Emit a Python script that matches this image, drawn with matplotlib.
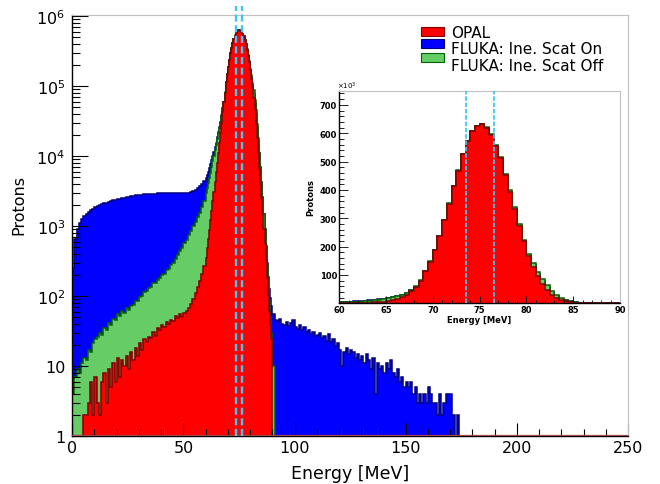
import numpy as np
import matplotlib
matplotlib.use('Agg')
import matplotlib.pyplot as plt
from matplotlib.patches import Rectangle
from matplotlib.ticker import MultipleLocator, LogLocator, NullFormatter

# ---- data (counts per 0.5 MeV bin) ----
# 0-60 MeV, one value per MeV
opal_low = [1, 1, 0, 1, 1, 2, 2, 3, 6, 2,
            7, 3, 2, 6, 8, 3, 9, 5, 11, 6,
            13, 7, 12, 10, 14, 9, 16, 12, 18, 14,
            21, 17, 24, 22, 26, 25, 31, 27, 35, 33,
            38, 36, 42, 40, 46, 44, 51, 48, 55, 50,
            58, 62, 68, 78, 92, 110, 135, 165, 205, 265]
off_low = [4, 7, 9, 8, 11, 13, 12, 17, 16, 21,
           24, 26, 30, 28, 35, 33, 41, 39, 47, 45,
           55, 52, 61, 58, 67, 64, 72, 74, 84, 86,
           97, 100, 115, 118, 128, 136, 152, 155, 172, 178,
           198, 208, 232, 245, 274, 296, 343, 380, 440, 490,
           570, 640, 745, 845, 985, 1125, 1325, 1555, 1875, 2300]
on_low = [250, 650, 900, 1100, 1250, 1380, 1480, 1580, 1680, 1760,
          1840, 1900, 1970, 2040, 2110, 2160, 2220, 2270, 2320, 2370,
          2410, 2450, 2490, 2530, 2570, 2610, 2650, 2690, 2730, 2760,
          2790, 2810, 2830, 2850, 2870, 2890, 2900, 2910, 2930, 2940,
          2950, 2940, 2960, 2950, 2940, 2960, 2950, 2930, 2950, 2940,
          2920, 2930, 2980, 3050, 3150, 3280, 3450, 3680, 3980, 4350]

# 60-90 MeV, 0.5 MeV bins (also the inset)
opal_peak = [350, 480, 650, 880, 1200, 1650, 2250, 3100, 4300, 5900,
             8000, 11000, 15500, 21500, 30000, 43000, 59000, 80000, 113000, 147000,
             188000, 236000, 293000, 351000, 413000, 468000, 526000, 572000, 606000, 624000,
             631000, 620000, 594000, 555000, 512000, 452000, 392000, 331000, 272000, 218000,
             168000, 127000, 95000, 67000, 47000, 29000, 18000, 11000, 6500, 4000,
             2500, 1500, 900, 550, 330, 180, 100, 60, 38, 24]
off_peak = [3000, 3500, 4100, 4900, 5800, 7000, 8400, 10000, 12000, 14500,
            17500, 21000, 25000, 30000, 37000, 47000, 60000, 81000, 114000, 148000,
            189000, 237000, 294000, 352000, 414000, 469000, 527000, 573000, 607000, 625000,
            632000, 621000, 596000, 558000, 516000, 457000, 398000, 338000, 280000, 225000,
            175000, 142000, 109000, 87000, 64000, 45000, 29000, 18000, 11000, 7000,
            4300, 2600, 1500, 880, 500, 280, 150, 85, 50, 30]
on_peak = [4800, 5300, 5900, 6700, 7600, 8700, 10000, 11500, 13500, 15500,
           18500, 22000, 26000, 31000, 38000, 48000, 59000, 80000, 113000, 147000,
           188000, 236000, 293000, 351000, 413000, 468000, 526000, 572000, 606000, 624000,
           631000, 620000, 594000, 555000, 512000, 452000, 392000, 331000, 272000, 218000,
           170000, 135000, 102000, 78000, 57000, 40000, 26000, 16500, 11000, 7000,
           4300, 2600, 1500, 900, 520, 300, 185, 125, 95, 72]

# 90-200 MeV, one value per MeV
off_tail = [10]
on_tail = [55, 46, 44, 47, 40, 39, 43, 37, 41, 45,
           36, 34, 38, 33, 36, 31, 33, 29, 31, 27,
           28, 30, 25, 27, 23, 29, 22, 24, 19, 21,
           17, 10, 16, 18, 15, 17, 16, 13, 15, 12,
           14, 11, 15, 12, 9, 13, 4, 11, 9, 10,
           8, 11, 9, 12, 8, 7, 9, 6, 7, 5,
           6, 5, 6, 4, 5, 3, 4, 3, 4, 3,
           5, 4, 3, 3, 2, 4, 2, 3, 4, 4,
           4, 2, 1, 2, 1, 1, 0, 1, 0, 0,
           0, 1, 0, 0, 1, 0, 0, 1, 1, 1,
           0, 0, 0, 0, 0, 0, 0, 0, 0, 0]

cut_lo, cut_hi = 73.5, 76.5

labels = ['OPAL', 'FLUKA: Ine. Scat On', 'FLUKA: Ine. Scat Off']
fills = ['#ff0000', '#0000ff', '#66cc66']
lines = ['#800000', '#000080', '#006400']
dash_col = '#3cc8f5'

# bin edges
e_low = np.arange(0, 60)
e_peak = 60 + 0.5 * np.arange(61)
e_tail = np.arange(91, 201)

opal_e = np.concatenate([e_low, e_peak])
off_e = np.concatenate([e_low, e_peak, [91]])
on_e = np.concatenate([e_low, e_peak, e_tail])

opal = np.array(opal_low + opal_peak, float)
off = np.array(off_low + off_peak + off_tail, float)
on = np.array(on_low + on_peak + on_tail, float)


def draw_hist(ax, edges, vals, fill, line, floor):
    v = np.clip(vals, floor, None)
    ax.stairs(v, edges, baseline=floor, fill=True, color=fill, lw=0)
    ax.stairs(v, edges, baseline=floor, color=line, lw=1.1)


def frame(ax):
    for s in ['top', 'right']:
        ax.spines[s].set_color('#c0c0c0')
    for s in ['left', 'bottom']:
        ax.spines[s].set_color('black')
        ax.spines[s].set_linewidth(1.0)


fig = plt.figure(figsize=(6.6, 4.85), dpi=100)

# ---- main log plot ----
ax = fig.add_axes([0.1095, 0.099, 0.842, 0.868])
draw_hist(ax, on_e, on, fills[1], lines[1], 0.1)
draw_hist(ax, off_e, off, fills[2], lines[2], 0.1)
draw_hist(ax, opal_e, opal, fills[0], lines[0], 0.1)
# empty OPAL bins end up drawn on the x axis in ROOT
ax.axhline(1, color='#a04848', lw=1.6, zorder=2.6)

ax.set_yscale('log')
ax.set_xlim(0, 250)
ax.set_ylim(1, 1.033e6)
for xv in [cut_lo, cut_hi]:
    ax.plot([xv, xv], [1, 1.38e6], color=dash_col, lw=1.7,
            ls=(0, (3, 1.5)), clip_on=False, zorder=4)

ax.set_yticks([1, 10, 1e2, 1e3, 1e4, 1e5, 1e6])
ax.set_yticklabels(['1', '10', '$10^{2}$', '$10^{3}$', '$10^{4}$',
                    '$10^{5}$', '$10^{6}$'])
ax.yaxis.set_minor_locator(LogLocator(base=10, subs=np.arange(2, 10), numticks=20))
ax.yaxis.set_minor_formatter(NullFormatter())
ax.xaxis.set_major_locator(MultipleLocator(50))
ax.xaxis.set_minor_locator(MultipleLocator(10))
ax.tick_params(axis='x', which='major', direction='in', length=9.5, width=0.8,
               labelsize=11.5, pad=3)
ax.tick_params(axis='x', which='minor', direction='in', length=5, width=0.8)
ax.tick_params(axis='y', which='major', direction='in', length=11.5, width=0.8,
               labelsize=11.5, pad=5)
ax.tick_params(axis='y', which='minor', direction='in', length=5.5, width=0.8)
frame(ax)

ax.set_xlabel('Energy [MeV]', fontsize=12.5, va='top')
ax.xaxis.set_label_coords(0.5, -0.066)
ax.set_ylabel('Protons', fontsize=11.5, va='center')
ax.yaxis.set_label_coords(-0.096, 0.551)

# legend drawn by hand to get the tight row spacing
for i, yb in enumerate([0.9494, 0.9209, 0.8876]):
    ax.add_patch(Rectangle((0.6275, yb), 0.0414, 0.0226, transform=ax.transAxes,
                           facecolor=fills[i], edgecolor=lines[i], lw=0.8,
                           clip_on=False, zorder=6))
ax.text(0.6815, 0.977, '\n'.join(labels), transform=ax.transAxes, fontsize=11,
        va='top', ha='left', linespacing=1.15, zorder=6)

# ---- inset, linear scale ----
axin = fig.add_axes([0.514, 0.3726, 0.4253, 0.4384])
axin.set_facecolor('white')
pe = e_peak
draw_hist(axin, pe, np.array(on_peak) / 1000.0, fills[1], lines[1], 0)
draw_hist(axin, pe, np.array(off_peak) / 1000.0, fills[2], lines[2], 0)
draw_hist(axin, pe, np.array(opal_peak) / 1000.0, fills[0], lines[0], 0)
for xv in [cut_lo, cut_hi]:
    axin.axvline(xv, color=dash_col, lw=1.3, ls=(0, (2.5, 1.0)), zorder=4)
axin.set_xlim(60, 90)
axin.set_ylim(0, 750)
axin.set_yticks(np.arange(100, 800, 100))
axin.yaxis.set_minor_locator(MultipleLocator(20))
axin.xaxis.set_major_locator(MultipleLocator(5))
axin.xaxis.set_minor_locator(MultipleLocator(1))
axin.tick_params(axis='both', which='major', direction='in', labelsize=6, pad=1.5)
axin.tick_params(axis='y', which='major', length=6.5, width=0.6)
axin.tick_params(axis='y', which='minor', direction='in', length=3.4, width=0.6)
axin.tick_params(axis='x', which='major', length=5, width=0.6)
axin.tick_params(axis='x', which='minor', direction='in', length=2.5, width=0.6)
for lab in axin.get_xticklabels() + axin.get_yticklabels():
    lab.set_fontweight('bold')
frame(axin)
axin.set_xlabel('Energy [MeV]', fontsize=6, fontweight='bold', va='top')
axin.xaxis.set_label_coords(0.5, -0.057)
axin.set_ylabel('Protons', fontsize=6, fontweight='bold', va='center')
axin.yaxis.set_label_coords(-0.100, 0.5)
axin.text(-0.007, 1.0, r'$\times10^{3}$', transform=axin.transAxes, fontsize=5,
          ha='left', va='bottom')

fig.savefig('out.png', dpi=100)
